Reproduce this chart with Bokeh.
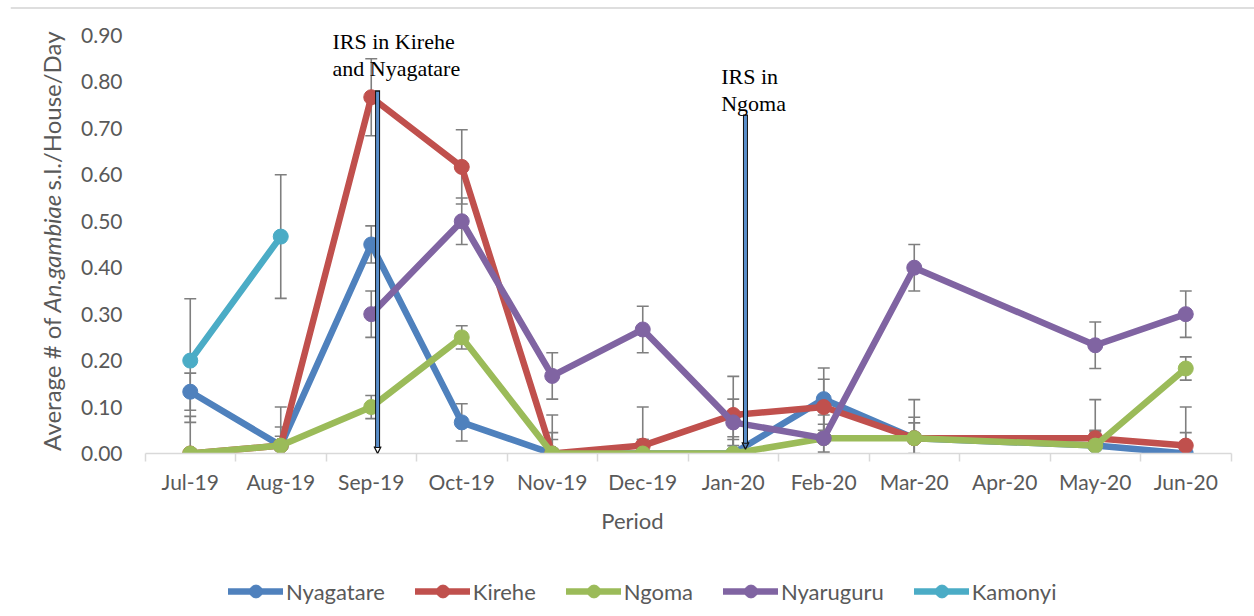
import math

from bokeh.embed import file_html
from bokeh.layouts import column
from bokeh.models import (Arrow, FixedTicker, Label, Legend, LegendItem,
                          NumeralTickFormatter, OpenHead, Range1d, Span)
from bokeh.plotting import figure
from bokeh.resources import INLINE

nan = float("nan")

# Monthly survey periods (Apr-20 has no collection)
periods = ["Jul-19", "Aug-19", "Sep-19", "Oct-19", "Nov-19", "Dec-19",
           "Jan-20", "Feb-20", "Mar-20", "Apr-20", "May-20", "Jun-20"]

# Average An. gambiae s.l. per house per day, by district
nyagatare = [0.133, 0.017, 0.450, 0.067, 0.000, 0.000, 0.000, 0.117, 0.033, nan, 0.017, 0.000]
kirehe = [0.000, 0.017, 0.767, 0.617, 0.000, 0.017, 0.083, 0.100, 0.033, nan, 0.033, 0.017]
ngoma = [0.000, 0.017, 0.100, 0.250, 0.000, 0.000, 0.000, 0.033, 0.033, nan, 0.017, 0.183]
nyaruguru = [nan, nan, 0.300, 0.500, 0.167, 0.267, 0.067, 0.033, 0.400, nan, 0.233, 0.300]
kamonyi = [0.200, 0.467, nan, nan, nan, nan, nan, nan, nan, nan, nan, nan]

# Standard errors drawn as error bars
nyagatare_err = [0.040, 0.083, 0.040, 0.040, 0.045, 0.030, 0.030, 0.067, 0.033, nan, 0.033, 0.045]
kirehe_err = [0.010, 0.020, 0.083, 0.080, 0.083, 0.083, 0.083, 0.060, 0.083, nan, 0.083, 0.083]
ngoma_err = [0.080, 0.040, 0.025, 0.025, 0.030, 0.030, 0.036, 0.030, 0.045, nan, 0.030, 0.025]
nyaruguru_err = [nan, nan, 0.050, 0.050, 0.050, 0.050, 0.050, 0.050, 0.050, nan, 0.050, 0.050]
kamonyi_err = [0.133, 0.133, nan, nan, nan, nan, nan, nan, nan, nan, nan, nan]

districts = ["Nyagatare", "Kirehe", "Ngoma", "Nyaruguru", "Kamonyi"]
values = [nyagatare, kirehe, ngoma, nyaruguru, kamonyi]
errors = [nyagatare_err, kirehe_err, ngoma_err, nyaruguru_err, kamonyi_err]
colors = ["#4F81BD", "#C0504D", "#9BBB59", "#8064A2", "#4BACC6"]

y_ticks = [0.0, 0.1, 0.2, 0.3, 0.4, 0.5, 0.6, 0.7, 0.8, 0.9]

# Indoor residual spraying campaigns (category position, arrow top, arrow tip)
irs_text = [["IRS in Kirehe", "and Nyagatare"], ["IRS in", "Ngoma"]]
irs_pos = [2.57, 6.635]
irs_top = [0.782, 0.730]
irs_tip = [0.000, 0.009]
irs_text_x = [2.072, 6.367]
irs_text_y = [0.8876, 0.8123]

GRAY = "#595959"
FONT = "Lato"

n = len(periods)
centers = [i + 0.5 for i in range(n)]
bounds = [float(i) for i in range(n + 1)]

# Layout in pixels: months occupy 144.5..1230.5, the frame spans the whole
# width so that the rotated axis title can live inside it.
W, H_MAIN, H_LEG = 1254, 556, 60
cat_px = 90.5
plot_left_px = 144.5
frame_left_px = 10
zero_px = 453
unit_px = 464.5          # pixels per 1.0 on the value axis
frame_top_px = 5

x_start = -(plot_left_px - frame_left_px) / cat_px
x_end = n + (W - (plot_left_px + n * cat_px)) / cat_px
y_end = (zero_px - frame_top_px) / unit_px

p = figure(width=W, height=H_MAIN,
           x_range=Range1d(x_start, x_end), y_range=Range1d(0, y_end),
           output_backend="svg", toolbar_location=None,
           min_border_left=frame_left_px, min_border_right=0,
           min_border_top=frame_top_px, min_border_bottom=H_MAIN - zero_px)
p.background_fill_color = "white"
p.border_fill_color = "white"
p.outline_line_color = None
p.xgrid.visible = False
p.ygrid.visible = False

# Thin border line across the top of the chart area
p.add_layout(Span(location=(zero_px - 7.5) / unit_px, dimension="width",
                  line_color="#dedede", line_width=2))

# Category axis: labels at month centres, tick marks between months
xa = p.xaxis[0]
xa.bounds = (0, n)
xa.ticker = FixedTicker(ticks=centers, minor_ticks=bounds)
xa.major_label_overrides = {c: lab for c, lab in zip(centers, periods)}
xa.major_tick_line_color = None
xa.major_tick_in = 0
xa.major_tick_out = 0
xa.minor_tick_in = 0
xa.minor_tick_out = 8
xa.minor_tick_line_color = "#d9d9d9"
xa.minor_tick_line_width = 1.5
xa.axis_line_color = "#d9d9d9"
xa.axis_line_width = 1.5
xa.major_label_text_font = FONT
xa.major_label_text_font_size = "21px"
xa.major_label_text_color = GRAY
xa.major_label_standoff = 7
xa.axis_label = "Period"
xa.axis_label_text_font = FONT
xa.axis_label_text_font_size = "22px"
xa.axis_label_text_font_style = "normal"
xa.axis_label_text_color = GRAY
xa.axis_label_standoff = 10

# Value axis: labels end 22 px left of the first month
ya = p.yaxis[0]
ya.ticker = FixedTicker(ticks=y_ticks)
ya.formatter = NumeralTickFormatter(format="0.00")
ya.axis_line_color = None
ya.major_tick_line_color = None
ya.minor_tick_line_color = None
ya.major_tick_in = 0
ya.major_tick_out = 0
ya.major_label_standoff = -int(round(plot_left_px - 22 - frame_left_px))
ya.major_label_text_font = FONT
ya.major_label_text_font_size = "21px"
ya.major_label_text_color = GRAY

# Error bars (behind the series); clipped at zero like the value axis
cap = 0.066
sx, sy0, sy1 = [], [], []
cx0, cx1, cy = [], [], []
for vals, errs in zip(values, errors):
    for i, (v, e) in enumerate(zip(vals, errs)):
        if math.isnan(v) or math.isnan(e):
            continue
        xc = centers[i]
        hi = v + e
        lo = v - e
        sx.append(xc)
        sy0.append(max(lo, 0.0))
        sy1.append(hi)
        cx0.append(xc - cap)
        cx1.append(xc + cap)
        cy.append(hi)
        if lo > -1e-9:
            cx0.append(xc - cap)
            cx1.append(xc + cap)
            cy.append(max(lo, 0.0))
p.segment(x0=sx, y0=sy0, x1=sx, y1=sy1, line_color="#7f7f7f", line_width=1.6)
p.segment(x0=cx0, y0=cy, x1=cx1, y1=cy, line_color="#7f7f7f", line_width=1.6)

# Series: lines connect across months without data
LINE_W, MARK = 6.5, 15
for name, vals, col in zip(districts, values, colors):
    xs = [centers[i] for i, v in enumerate(vals) if not math.isnan(v)]
    ys = [v for v in vals if not math.isnan(v)]
    p.line(xs, ys, line_color=col, line_width=LINE_W, line_join="round", line_cap="round")
    p.scatter(xs, ys, marker="circle", size=MARK, fill_color=col, line_color=col)

# IRS arrows and notes
for x, top, tip in zip(irs_pos, irs_top, irs_tip):
    p.segment(x0=[x], y0=[top], x1=[x], y1=[tip + 0.012], line_color="#111111", line_width=5)
    p.segment(x0=[x], y0=[top - 0.003], x1=[x], y1=[tip + 0.014], line_color="#5a8fcb", line_width=3)
    p.add_layout(Arrow(end=OpenHead(size=7, line_width=1.3, line_color="#111111"),
                       x_start=x, y_start=tip + 0.03, x_end=x, y_end=tip,
                       line_alpha=0))

line_gap = 0.0581
for lines, tx, ty in zip(irs_text, irs_text_x, irs_text_y):
    for k, t in enumerate(lines):
        p.add_layout(Label(x=tx, y=ty - k * line_gap, text=t,
                           text_font="Liberation Serif", text_font_size="22px",
                           text_color="black", text_baseline="alphabetic",
                           text_align="left"))

# Value axis title (reads upwards) with the species name in italics;
# the first part is anchored at its end, the others at their start
title_x = -1.028
title_parts = [("Average # of", "normal", "right", 0.2928),
               ("An.gambiae", "italic", "left", 0.3036),
               ("s.l./House/Day", "normal", "left", 0.5662)]
for t, style, align, y0 in title_parts:
    p.add_layout(Label(x=title_x, y=y0, text=t, angle=math.pi / 2,
                       text_font=FONT, text_font_size="24px",
                       text_font_style=style, text_color=GRAY,
                       text_baseline="alphabetic", text_align=align))

# Legend strip underneath the chart
q = figure(width=W, height=H_LEG, x_range=Range1d(0, W), y_range=Range1d(0, H_LEG),
           output_backend="svg", toolbar_location=None,
           x_axis_type=None, y_axis_type=None,
           min_border_left=0, min_border_right=0, min_border_top=0, min_border_bottom=0)
q.outline_line_color = None
q.xgrid.visible = False
q.ygrid.visible = False
q.background_fill_color = "white"
q.border_fill_color = "white"

# Proxy glyphs (outside the visible range) that give the legend its swatches
items = []
for name, col in zip(districts, colors):
    lr = q.line(x=[-20, -10], y=[-20, -20], line_color=col, line_width=LINE_W,
                line_cap="round")
    sr = q.scatter(x=[-15], y=[-20], marker="circle", size=MARK, fill_color=col, line_color=col)
    items.append(LegendItem(label=name, renderers=[lr, sr]))

legend = Legend(items=items, location=(218, 9), orientation="horizontal",
                glyph_width=55, glyph_height=32, label_standoff=3, spacing=30,
                padding=0, margin=0, border_line_color=None,
                background_fill_alpha=0,
                label_text_font=FONT, label_text_font_size="22px",
                label_text_color=GRAY)
q.add_layout(legend)

open("out.html", "w").write(file_html(column(p, q, spacing=0), INLINE))
